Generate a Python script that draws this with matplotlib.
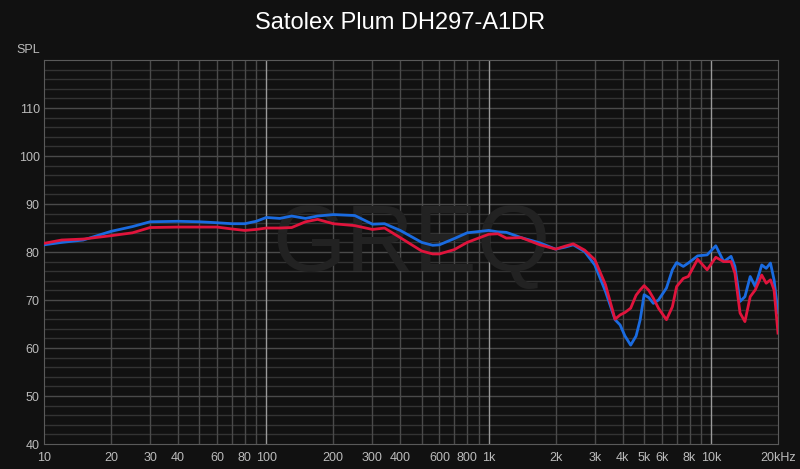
import matplotlib
matplotlib.use("Agg")
import matplotlib.pyplot as plt
from matplotlib.ticker import FixedLocator, NullFormatter

# frequency points (Hz) and SPL readings for the two channels
freqs = [10, 12, 15, 20, 25, 30, 40, 50, 60, 70, 80, 90, 100, 115, 130, 150, 170,
         200, 250, 300, 340, 400, 500, 560, 600, 700, 800, 1000, 1100, 1200, 1400,
         1700, 2000, 2200, 2400, 2700, 3000, 3350, 3700, 3900, 4100, 4350, 4600,
         4800, 5000, 5250, 5500, 5800, 6300, 6700, 7000, 7500, 7900, 8700, 9600,
         10500, 11400, 12300, 12800, 13500, 14200, 15000, 15800, 16900, 17700,
         18500, 19200, 20000]

left_spl = [81.5, 82.0, 82.5, 84.3, 85.3, 86.3, 86.4, 86.3, 86.1, 85.9, 85.9, 86.4,
            87.2, 87.0, 87.5, 87.0, 87.5, 87.8, 87.6, 85.8, 85.9, 84.5, 82.0, 81.4,
            81.5, 82.8, 84.0, 84.5, 84.2, 84.1, 83.0, 81.9, 80.6, 81.0, 81.5, 80.1,
            77.3, 71.8, 65.9, 64.8, 62.5, 60.6, 62.5, 65.9, 71.1, 70.5, 69.3, 70.0,
            72.5, 76.3, 77.8, 77.0, 77.7, 79.2, 79.4, 81.3, 78.0, 79.1, 77.0, 69.7,
            70.7, 74.9, 72.8, 77.3, 76.6, 77.7, 74.2, 67.3]

right_spl = [81.8, 82.5, 82.7, 83.4, 84.0, 85.1, 85.2, 85.2, 85.2, 84.8, 84.5, 84.7,
             85.0, 85.0, 85.1, 86.3, 86.8, 85.9, 85.5, 84.7, 85.0, 83.0, 80.2, 79.6,
             79.6, 80.5, 82.0, 83.7, 83.8, 82.9, 83.0, 81.5, 80.6, 81.2, 81.7, 80.4,
             78.4, 73.2, 66.0, 66.9, 67.4, 68.3, 71.0, 72.1, 73.0, 72.0, 70.4, 68.3,
             65.9, 68.6, 72.8, 74.5, 74.9, 78.5, 76.3, 78.9, 78.0, 78.0, 75.6, 67.3,
             65.5, 70.7, 72.1, 75.2, 73.5, 74.2, 72.1, 63.1]

x_ticks = [10, 20, 30, 40, 60, 80, 100, 200, 300, 400, 600, 800, 1000,
           2000, 3000, 4000, 5000, 6000, 8000, 10000, 20000]
x_labels = ["10", "20", "30", "40", "60", "80", "100", "200", "300", "400", "600",
            "800", "1k", "2k", "3k", "4k", "5k", "6k", "8k", "10k", "20kHz"]
y_ticks = [40, 50, 60, 70, 80, 90, 100, 110]

bg = "#111111"
plt.rcParams["font.family"] = ["Liberation Sans", "DejaVu Sans"]

fig = plt.figure(figsize=(8, 4.69), dpi=100, facecolor=bg)
ax = fig.add_axes([0.055, 0.0533, 0.9175, 0.8187], facecolor=bg)

ax.set_xscale("log")
ax.set_xlim(10, 20000)
ax.set_ylim(40, 120)

# grid: every 2 dB horizontally, 1-2-3..9 per decade vertically
for v in range(42, 120, 2):
    c = "#4a4a4a" if v % 10 == 0 else "#333333"
    ax.axhline(v, color=c, lw=1, zorder=1)
grid_f = [m * 10 ** d for d in range(1, 5) for m in range(1, 10)]
for f in grid_f:
    if 10 < f < 20000:
        c = "#9a9a9a" if f in (100, 1000, 10000) else "#4a4a4a"
        ax.axvline(f, color=c, lw=1, zorder=1)

# watermark
ax.text(0.5, 0.515, "GREQ", transform=ax.transAxes, ha="center", va="center",
        fontsize=68, color="#222222", zorder=1.5)

ax.plot(freqs, left_spl, color="#1a6be0", lw=2, zorder=3, solid_joinstyle="round")
ax.plot(freqs, right_spl, color="#e0143c", lw=2, zorder=4, solid_joinstyle="round")

ax.xaxis.set_major_locator(FixedLocator(x_ticks))
ax.set_xticklabels(x_labels)
ax.xaxis.set_minor_formatter(NullFormatter())
ax.xaxis.set_minor_locator(FixedLocator([]))
ax.set_yticks(y_ticks)
ax.tick_params(colors="#bbbbbb", labelsize=9, length=0, pad=3)
ax.tick_params(axis="x", pad=6)

for s in ax.spines.values():
    s.set_color("#5a5a5a")

fig.text(0.035, 0.893, "SPL", color="#bbbbbb", fontsize=9, ha="center", va="center")
fig.text(0.5, 0.950, "Satolex Plum DH297-A1DR", color="white", fontsize=17,
         ha="center", va="center")

fig.savefig("out.png", dpi=100, facecolor=bg)
